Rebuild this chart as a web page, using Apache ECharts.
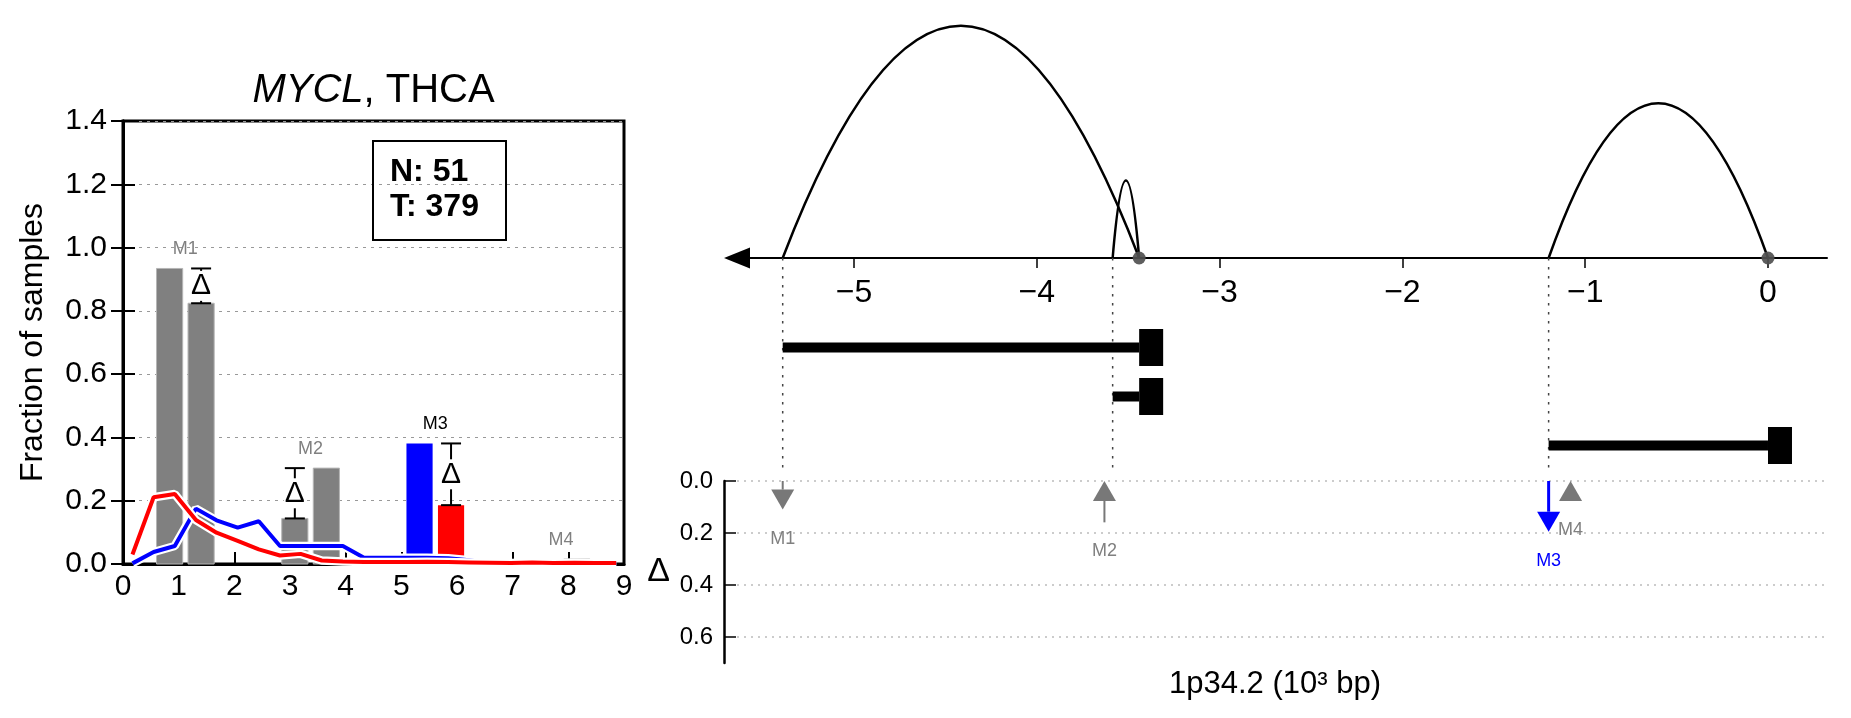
<!DOCTYPE html>
<html><head><meta charset="utf-8">
<script src="https://cdn.jsdelivr.net/npm/echarts@6/dist/echarts.min.js"></script>
<style>html,body{margin:0;padding:0;background:#fff}#c{width:1851px;height:718px}</style>
</head><body><div id="c"></div>
<script>
// ---------------- data ----------------
const geneName = 'MYCL';
const cancerType = 'THCA';
const normalCount = 51;
const tumorCount = 379;

// histogram curves (left panel)
const histX = [0.17, 0.55, 0.93, 1.31, 1.68, 2.06, 2.44, 2.82, 3.19, 3.57, 3.95, 4.33, 4.71, 5.08, 5.46, 5.84, 6.22, 6.59, 6.97, 7.35, 7.73, 8.11, 8.48, 8.86];
const normalCurve = [0.002, 0.038, 0.057, 0.175, 0.138, 0.115, 0.135, 0.057, 0.057, 0.057, 0.057, 0.020, 0.020, 0.020, 0.020, 0.018, 0.012, 0.002, 0.001, 0.001, 0.001, 0.001, 0.001, 0.001];
const tumorCurve = [0.030, 0.211, 0.221, 0.139, 0.099, 0.073, 0.046, 0.027, 0.032, 0.011, 0.008, 0.006, 0.006, 0.006, 0.007, 0.006, 0.005, 0.004, 0.003, 0.005, 0.003, 0.004, 0.003, 0.003];

// markers
const markerNames = ['M1', 'M2', 'M3', 'M4'];
const markerHistCenter = [1.12, 3.37, 5.61, 7.87];
const markerNormalFrac = [0.934, 0.144, 0.381, 0.000];
const markerTumorFrac = [0.824, 0.303, 0.186, 0.016];
const markerSignificant = [false, false, true, false];
const markerShowDelta = [true, true, true, false];
const markerGenomicPos = [-5.39, -3.63, -1.20, -1.08];
const markerLinePos = [-5.39, -3.585, -1.20];

// genomic loops / transcripts (10^3 bp)
const loopStart = [-5.39, -3.585, -1.20];
const loopEnd = [-3.44, -3.44, 0.00];
const loopHeight = [0.90, 0.30, 0.60];
const anchorPos = [-3.44, 0.00];
const transcriptRows = ['1', '2', '3'];
const transcriptStart = [-5.39, -3.585, -1.20];
const transcriptEnd = [-3.44, -3.44, 0.00];

// ticks
const genomicTicks = [-5, -4, -3, -2, -1, 0];
const deltaTicks = [0, 0.2, 0.4, 0.6];

// ---------------- layout / style ----------------
const FONT = 'Liberation Sans, Arial, sans-serif';
const GEN_MIN = -5.640, GEN_MAX = 0.3228;
const BAR_OFF = 0.283, BAR_W = 0.47;
const GRAY = '#808080';
const ARROW_GRAY = '#787878';

const chart = echarts.init(document.getElementById('c'), null, {renderer: 'canvas', width: 1851, height: 718});

const minusFmt = v => (v < 0 ? '\u2212' + Math.abs(v) : String(v));

const barData = markerNames.map((n, i) => [markerHistCenter[i], markerNormalFrac[i], markerTumorFrac[i], i]);
const annotData = markerNames.map((n, i) => [markerHistCenter[i], markerNormalFrac[i], markerTumorFrac[i], i]);
const deltaData = markerNames.map((n, i) => [markerGenomicPos[i], markerNormalFrac[i], markerTumorFrac[i], i]);

const hiddenGenX = gi => ({gridIndex: gi, type: 'value', min: GEN_MIN, max: GEN_MAX, show: false});

const option = {
  animation: false,
  textStyle: {fontFamily: FONT},
  title: [{
    text: 'N: ' + normalCount + '\nT: ' + tumorCount,
    left: 373, top: 141,
    padding: [14, 27, 15, 17],
    borderColor: '#000', borderWidth: 2,
    textStyle: {fontFamily: FONT, fontSize: 32, fontWeight: 'bold', lineHeight: 35, color: '#000'}
  }],
  grid: [
    {left: 123, top: 121, width: 501, height: 443, show: true, borderColor: '#000', borderWidth: 3},
    {left: 737, right: 24, top: 0, height: 258},
    {left: 737, right: 24, top: 323, height: 147},
    {left: 737, right: 24, top: 481, height: 182},
    {left: 737, right: 24, top: 258, height: 214}
  ],
  xAxis: [
    {gridIndex: 0, type: 'value', min: 0, max: 9, interval: 1,
      axisLine: {lineStyle: {color: '#000', width: 3}},
      axisTick: {inside: true, length: 12, lineStyle: {color: '#000', width: 2}},
      axisLabel: {fontSize: 30, color: '#000', margin: 8, fontFamily: FONT},
      splitLine: {show: false}},
    {gridIndex: 0, type: 'value', min: 0, max: 9, position: 'top',
      axisLine: {show: false}, axisTick: {show: false}, axisLabel: {show: false}, splitLine: {show: false},
      name: '{i|' + geneName + '}, ' + cancerType, nameLocation: 'middle', nameGap: 10,
      nameTextStyle: {fontSize: 40, color: '#000', fontFamily: FONT,
        rich: {i: {fontStyle: 'italic', fontSize: 40, color: '#000', fontFamily: FONT}}}},
    {gridIndex: 1, type: 'value', min: GEN_MIN, max: GEN_MAX, position: 'bottom',
      axisLine: {onZero: false, symbol: ['triangle', 'none'], symbolSize: [21, 26], lineStyle: {color: '#000', width: 2}},
      axisTick: {customValues: genomicTicks, length: 10, lineStyle: {color: '#000', width: 1.5}},
      axisLabel: {customValues: genomicTicks, formatter: minusFmt, fontSize: 32, color: '#000', margin: 19, fontFamily: FONT},
      splitLine: {show: false}},
    hiddenGenX(2),
    {gridIndex: 3, type: 'value', min: GEN_MIN, max: GEN_MAX,
      axisLine: {show: false, onZero: false}, axisTick: {show: false}, axisLabel: {show: false}, splitLine: {show: false},
      name: '1p34.2 (10\u00b3 bp)', nameLocation: 'middle', nameGap: 6,
      nameTextStyle: {fontSize: 31, color: '#000', fontFamily: FONT, padding: [0, 14, 0, 0]}},
    hiddenGenX(4)
  ],
  yAxis: [
    {gridIndex: 0, type: 'value', min: 0, max: 1.4, interval: 0.2,
      axisLine: {lineStyle: {color: '#000', width: 3}},
      axisTick: {inside: true, length: 12, lineStyle: {color: '#000', width: 2}},
      axisLabel: {fontSize: 30, color: '#000', margin: 16, formatter: v => v.toFixed(1), fontFamily: FONT},
      splitLine: {show: true, lineStyle: {color: '#999', type: [3, 5], width: 1}},
      name: 'Fraction of samples', nameLocation: 'middle', nameRotate: 90, nameGap: 74,
      nameTextStyle: {fontSize: 32, color: '#000', fontFamily: FONT}},
    {gridIndex: 0, type: 'value', min: 0, max: 1.4, interval: 0.2, position: 'right',
      axisLine: {lineStyle: {color: '#000', width: 3}},
      axisTick: {inside: true, length: 12, lineStyle: {color: '#000', width: 2}},
      axisLabel: {show: false}, splitLine: {show: false}},
    {gridIndex: 1, type: 'value', min: 0, max: 1, show: false},
    {gridIndex: 2, type: 'category', data: transcriptRows, inverse: true, show: false},
    {gridIndex: 3, type: 'value', min: 0, max: 0.7, inverse: true, offset: 13, position: 'left',
      axisLine: {onZero: false, lineStyle: {color: '#000', width: 2.5}},
      axisTick: {customValues: deltaTicks, inside: true, length: 12, lineStyle: {color: '#000', width: 1.5}},
      axisLabel: {customValues: deltaTicks, fontSize: 24, color: '#000', margin: 11, formatter: v => v.toFixed(1), fontFamily: FONT},
      splitLine: {show: false},
      name: '\u0394', nameLocation: 'middle', nameRotate: 0, nameGap: 54,
      nameTextStyle: {fontSize: 34, color: '#000', fontFamily: FONT}},
    {gridIndex: 4, type: 'value', min: 0, max: 1, show: false}
  ],
  series: [
    // ---- left: bars ----
    {type: 'custom', xAxisIndex: 0, yAxisIndex: 0, z: 2, data: barData, encode: {x: 0, y: [1, 2]},
      renderItem: function (params, api) {
        const c = api.value(0), i = api.value(3);
        const vals = [api.value(1), api.value(2)];
        const cols = markerSignificant[i] ? ['#0000ff', '#ff0000'] : [GRAY, GRAY];
        const children = [];
        [-1, 1].forEach(function (s, k) {
          const p0 = api.coord([c + s * BAR_OFF - BAR_W / 2, vals[k]]);
          const p1 = api.coord([c + s * BAR_OFF + BAR_W / 2, 0]);
          children.push({type: 'rect', shape: {x: p0[0], y: p0[1], width: p1[0] - p0[0], height: p1[1] - p0[1]},
            style: {fill: cols[k], stroke: markerSignificant[i] ? null : '#b5b5b5', lineWidth: 1}});
        });
        return {type: 'group', children: children};
      }},
    // ---- left: curves with white halo ----
    {type: 'line', xAxisIndex: 0, yAxisIndex: 0, z: 3, data: histX.map((x, i) => [x, normalCurve[i]]),
      showSymbol: false, silent: true, lineStyle: {color: '#fff', width: 8.5}},
    {type: 'line', xAxisIndex: 0, yAxisIndex: 0, z: 4, data: histX.map((x, i) => [x, normalCurve[i]]),
      showSymbol: false, silent: true, lineStyle: {color: '#0000ff', width: 4}},
    {type: 'line', xAxisIndex: 0, yAxisIndex: 0, z: 5, data: histX.map((x, i) => [x, tumorCurve[i]]),
      showSymbol: false, silent: true, lineStyle: {color: '#fff', width: 8.5}},
    {type: 'line', xAxisIndex: 0, yAxisIndex: 0, z: 6, data: histX.map((x, i) => [x, tumorCurve[i]]),
      showSymbol: false, silent: true, lineStyle: {color: '#ff0000', width: 4}},
    // ---- left: marker labels + delta error bars ----
    {type: 'custom', xAxisIndex: 0, yAxisIndex: 0, z: 8, data: annotData, encode: {x: 0, y: [1, 2]},
      renderItem: function (params, api) {
        const c = api.value(0), nv = api.value(1), tv = api.value(2), i = api.value(3);
        const children = [];
        const top = api.coord([c, Math.max(nv, tv)]);
        children.push({type: 'text', style: {text: markerNames[i], x: top[0], y: top[1] - 19, align: 'center', verticalAlign: 'middle',
          fontSize: 18, fontFamily: FONT, fill: markerSignificant[i] ? '#000' : GRAY}});
        if (markerShowDelta[i]) {
          const xl = nv < tv ? c - BAR_OFF : c + BAR_OFF;
          const pLo = api.coord([xl, Math.min(nv, tv)]);
          const pHi = api.coord([xl, Math.max(nv, tv)]);
          const x = pLo[0];
          const ls = {stroke: '#000', lineWidth: 2};
          children.push({type: 'line', shape: {x1: x, y1: pHi[1], x2: x, y2: pLo[1]}, style: ls});
          children.push({type: 'line', shape: {x1: x - 10, y1: pHi[1], x2: x + 10, y2: pHi[1]}, style: ls});
          children.push({type: 'line', shape: {x1: x - 10, y1: pLo[1], x2: x + 10, y2: pLo[1]}, style: ls});
          children.push({type: 'text', style: {text: '\u0394', x: x, y: (pLo[1] + pHi[1]) / 2, align: 'center', verticalAlign: 'middle',
            fontSize: 30, fontFamily: FONT, fill: '#000', backgroundColor: '#fff', padding: [0, 1]}});
        }
        return {type: 'group', children: children};
      }},
    // ---- right: dotted marker guide lines ----
    {type: 'custom', xAxisIndex: 5, yAxisIndex: 5, z: 1, data: markerLinePos.map(x => [x, 0]), encode: {x: 0, y: 1},
      renderItem: function (params, api) {
        const p = api.coord([api.value(0), 0]);
        const cs = params.coordSys;
        return {type: 'line', shape: {x1: p[0], y1: cs.y, x2: p[0], y2: cs.y + cs.height},
          style: {stroke: '#444', lineWidth: 1.5, lineDash: [2.5, 6.5]}};
      }},
    // ---- right: loops ----
    {type: 'custom', xAxisIndex: 2, yAxisIndex: 2, z: 3, data: loopStart.map((s, i) => [s, loopEnd[i], loopHeight[i]]),
      encode: {x: [0, 1], y: 2},
      renderItem: function (params, api) {
        const a = api.coord([api.value(0), 0]);
        const b = api.coord([api.value(1), 0]);
        const cp = api.coord([(api.value(0) + api.value(1)) / 2, 2 * api.value(2)]);
        return {type: 'bezierCurve', shape: {x1: a[0], y1: a[1], x2: b[0], y2: b[1], cpx1: cp[0], cpy1: cp[1]},
          style: {stroke: '#000', fill: null, lineWidth: 2.5}};
      }},
    // ---- right: anchors ----
    {type: 'scatter', xAxisIndex: 2, yAxisIndex: 2, z: 5, data: anchorPos.map(x => [x, 0]), symbolSize: 13,
      itemStyle: {color: '#505050', opacity: 0.92}, silent: true, clip: false},
    // ---- right: transcripts ----
    {type: 'custom', xAxisIndex: 3, yAxisIndex: 3, z: 4, data: transcriptStart.map((s, i) => [s, transcriptEnd[i], i]),
      encode: {x: [0, 1], y: 2},
      renderItem: function (params, api) {
        const s = api.coord([api.value(0), api.value(2)]);
        const e = api.coord([api.value(1), api.value(2)]);
        return {type: 'group', children: [
          {type: 'rect', shape: {x: s[0], y: s[1] - 5, width: e[0] - s[0], height: 10}, style: {fill: '#000'}},
          {type: 'rect', shape: {x: e[0], y: e[1] - 18.5, width: 24, height: 37}, style: {fill: '#000'}}
        ]};
      }},
    // ---- right: delta grid lines ----
    {type: 'custom', xAxisIndex: 4, yAxisIndex: 4, z: 1, data: deltaTicks.map(v => [GEN_MIN, v]), encode: {x: 0, y: 1},
      renderItem: function (params, api) {
        const p = api.coord([api.value(0), api.value(1)]);
        const cs = params.coordSys;
        return {type: 'line', shape: {x1: cs.x, y1: p[1], x2: cs.x + cs.width, y2: p[1]},
          style: {stroke: '#999', lineWidth: 1, lineDash: [2, 5]}};
      }},
    // ---- right: delta arrows ----
    {type: 'custom', xAxisIndex: 4, yAxisIndex: 4, z: 5, data: deltaData, encode: {x: 0, y: [1, 2]},
      renderItem: function (params, api) {
        const pos = api.value(0), nv = api.value(1), tv = api.value(2), i = api.value(3);
        const d = tv - nv, mag = Math.abs(d), down = d < 0;
        const col = markerSignificant[i] ? '#0000ff' : ARROW_GRAY;
        const tail = api.coord([pos, down ? 0 : mag]);
        const tip = api.coord([pos, down ? mag : 0]);
        const dir = down ? 1 : -1;
        const HL = 20, HW = 23;
        const x = tip[0];
        const baseY = tip[1] - dir * HL;
        const children = [];
        if ((baseY - tail[1]) * dir > 0) {
          children.push({type: 'line', shape: {x1: x, y1: tail[1], x2: x, y2: baseY},
            style: {stroke: col, lineWidth: markerSignificant[i] ? 3 : 2}});
        }
        children.push({type: 'polygon', shape: {points: [[x, tip[1]], [x - HW / 2, baseY], [x + HW / 2, baseY]]}, style: {fill: col}});
        const lowest = Math.max(tail[1], tip[1], baseY);
        children.push({type: 'text', style: {text: markerNames[i], x: x, y: lowest + 29, align: 'center', verticalAlign: 'middle',
          fontSize: 18, fontFamily: FONT, fill: markerSignificant[i] ? '#0000ff' : GRAY}});
        return {type: 'group', children: children};
      }}
  ]
};
chart.setOption(option);
</script>
</body></html>
